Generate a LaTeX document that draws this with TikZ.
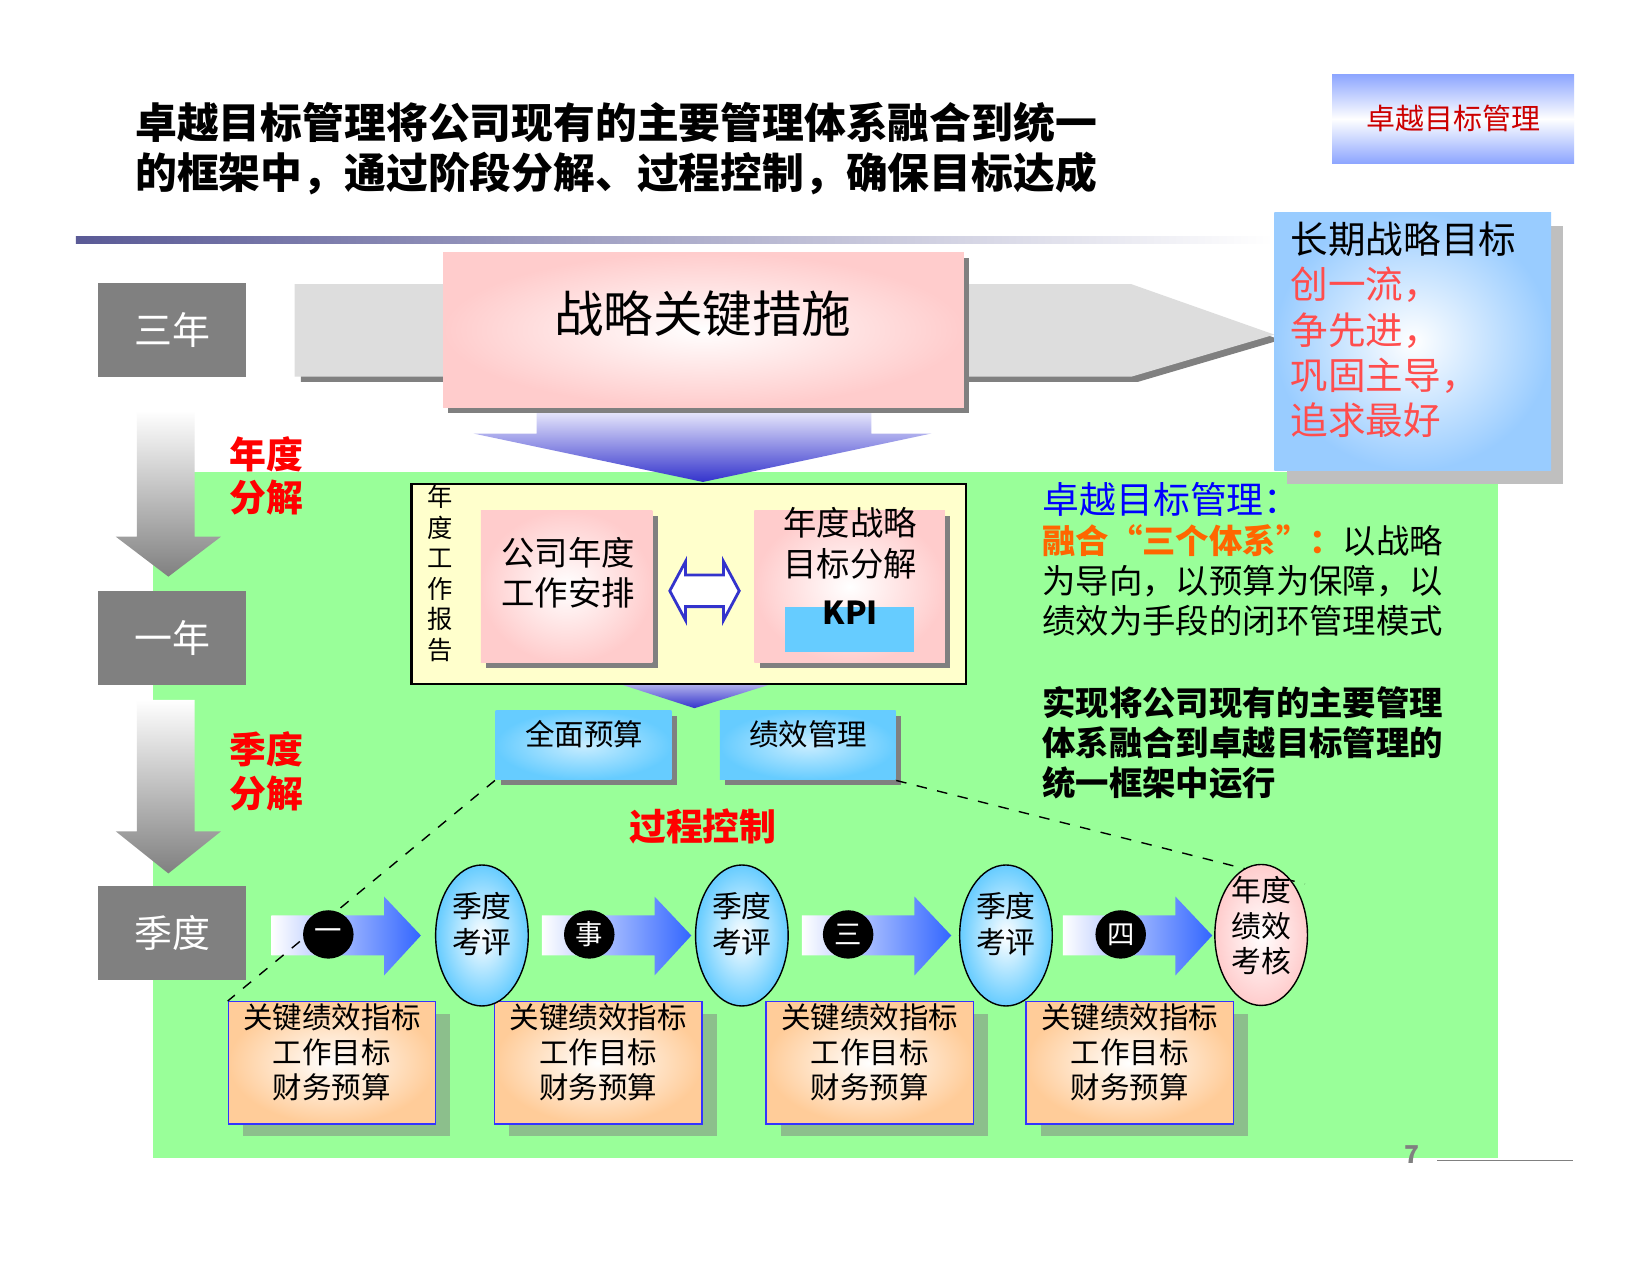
\documentclass[tikz,border=0pt]{standalone}
\usepackage{fontspec}
\setmainfont{Noto Sans CJK SC}
\usetikzlibrary{shapes.geometric,shadows,calc}

\definecolor{bggreen}{RGB}{153,255,153}
\definecolor{boxgray}{RGB}{128,128,128}
\definecolor{arrowgray}{RGB}{221,221,221}
\definecolor{pinkfill}{RGB}{255,204,204}
\definecolor{yellowfill}{RGB}{255,255,204}
\definecolor{skyfill}{RGB}{153,204,255}
\definecolor{kpiblue}{RGB}{102,204,255}
\definecolor{orangefill}{RGB}{255,204,153}
\definecolor{frameblue}{RGB}{51,51,255}
\definecolor{arrowblue}{RGB}{51,102,255}
\definecolor{deepblue}{RGB}{51,51,204}
\definecolor{titlered}{RGB}{204,0,0}
\definecolor{softred}{RGB}{255,77,77}
\definecolor{textorange}{RGB}{255,102,0}
\definecolor{ruleblue}{RGB}{90,90,150}
\definecolor{tagblue}{RGB}{140,165,255}

\newcommand{\pxl}{0.010523cm}

\begin{document}
\begin{tikzpicture}
  [x=0.010523cm, y=-0.010523cm,
   txt/.style={inner sep=0, align=center},
   wh/.style 2 args={minimum width=#1*\pxl, minimum height=#2*\pxl, inner sep=0},
   yearbox/.style={fill=boxgray, text=white, wh={141}{89}, font=\fontsize{10.8}{13}\selectfont},
   redlbl/.style={txt, text=red, font=\fontsize{10.5}{12.3}\selectfont\bfseries},
   pinkbox/.style={inner color=white, outer color=pinkfill,
     drop shadow={shadow xshift=1.5pt, shadow yshift=-1.5pt, opacity=1, fill=boxgray}},
   skybox/.style={inner color=kpiblue!35, outer color=kpiblue,
     drop shadow={shadow xshift=1.5pt, shadow yshift=-1.5pt, opacity=1, fill=boxgray}},
   goalbox/.style={draw=frameblue, inner color=white, outer color=orangefill, wh={197}{116},
     drop shadow={shadow xshift=4.2pt, shadow yshift=-3.6pt, opacity=0.5, fill=boxgray}},
   review/.style={ellipse, draw, wh={88}{134}, inner color=white, outer color=kpiblue,
     align=center, text depth=7pt, font=\fontsize{8.5}{10.2}\selectfont},
   stepdot/.style={ellipse, fill=black, wh={48}{46}, text=white, font=\fontsize{7.8}{8}\selectfont}]

  \useasboundingbox (0,0) rectangle (1568,1212);
  \fill[white] (0,0) rectangle (1568,1212);

  % title
  \node[txt, anchor=west, align=left, font=\fontsize{11.9}{14.1}\selectfont\bfseries] (title) at (128,141)
    {卓越目标管理将公司现有的主要管理体系融合到统一\\的框架中，通过阶段分解、过程控制，确保目标达成};
  \shade[left color=ruleblue, right color=white] (72,225) rectangle (1210,231);
  \node[wh={230}{85}, top color=tagblue, bottom color=tagblue, middle color=white,
        text=titlered, font=\fontsize{8.25}{10}\selectfont] (tag) at (1381,113) {卓越目标管理};

  \fill[bggreen] (145,449) rectangle (1424,1100);

  % three year band
  \fill[boxgray] (286,275) -- (1081,275) -- (1217,323) -- (1081,363) -- (286,363) -- cycle;
  \fill[arrowgray] (280,270) -- (1075,270) -- (1211,318) -- (1075,358) -- (280,358) -- cycle;
  \shade[top color=blue!5, bottom color=deepblue] (510,387) -- (828,387) -- (828,412) -- (885,412)
    -- (668,458) -- (450,412) -- (510,412) -- cycle;
  \node[pinkbox, wh={495}{147}] (zlcs) at (668.5,313.5) {};
  \node[txt, font=\fontsize{14.1}{16}\selectfont] (zlcs-t) at (668,298) {战略关键措施};

  \node[wh={263}{245}, inner color=white, outer color=skyfill,
        drop shadow={shadow xshift=3.5pt, shadow yshift=-3.8pt, opacity=1, fill=black!25}] (cq) at (1342.5,324.5) {};
  \node[txt, anchor=west, align=left, font=\fontsize{10.7}{12.9}\selectfont] (cq-t) at (1226,313.5)
    {长期战略目标\\\textcolor{softred}{创一流，}\\\textcolor{softred}{争先进，}\\\textcolor{softred}{巩固主导，}\\\textcolor{softred}{追求最好}};

  % left column
  \shade[top color=white, bottom color=boxgray] (130,390) -- (185,390) -- (185,510) -- (210,510)
    -- (160,548) -- (110,510) -- (130,510) -- cycle;
  \shade[top color=white, bottom color=boxgray] (130,665) -- (185,665) -- (185,790) -- (210,790)
    -- (160,830) -- (110,790) -- (130,790) -- cycle;
  \node[yearbox] (sn) at (163.5,313.5) {三年};
  \node[yearbox] (yn) at (163.5,606) {一年};
  \node[yearbox] (jd) at (163.5,886.5) {季度};
  \node[redlbl] (ndfj) at (253,452) {年度\\分解};
  \node[redlbl] (jdfj) at (253,733) {季度\\分解};

  % annual block
  \node[wh={527}{190}, draw, thick, fill=yellowfill] (ndbg) at (654.5,555) {};
  \node[txt, font=\fontsize{7.2}{8.7}\selectfont] (ndbg-t) at (418,545) {年\\度\\工\\作\\报\\告};
  \node[pinkbox, wh={163}{145}] (gs) at (538.5,557.5) {};
  \node[txt, font=\fontsize{9.5}{11.4}\selectfont] (gs-t) at (540,544) {公司年度\\工作安排};
  \node[pinkbox, wh={181}{145}] (zl) at (807.5,557.5) {};
  \node[txt, font=\fontsize{9.5}{11.7}\selectfont] (zl-t) at (808,516) {年度战略\\目标分解};
  \node[wh={123}{43}, fill=kpiblue] (kpi) at (807.5,598.5) {};
  \node[txt, font=\fontsize{9}{10}\selectfont\bfseries] (kpi-t) at (808,582) {KPI};
  \coordinate (mid) at ($(gs.east)!0.5!(zl.west)+(1,4)$);
  \draw[deepblue, fill=white, thick, shift={(mid)}] (-33,0) -- (-18,-28) -- (-18,-15) -- (18,-15)
    -- (18,-28) -- (33,0) -- (18,28) -- (18,15) -- (-18,15) -- (-18,28) -- cycle;
  \shade[top color=deepblue!40, bottom color=deepblue] (592,651) -- (730,651) -- (660,673) -- cycle;

  \node[skybox, wh={167}{66}] (qmys) at (554.5,708) {};
  \node[txt, font=\fontsize{8.4}{10}\selectfont] (qmys-t) at (555,698) {全面预算};
  \node[skybox, wh={167}{66}] (jxgl) at (767.5,708) {};
  \node[txt, font=\fontsize{8.4}{10}\selectfont] (jxgl-t) at (768,698) {绩效管理};
  \node[redlbl] (gckz) at (668,785) {过程控制};

  % right text
  \node[txt, anchor=west, text=blue, font=\fontsize{10.5}{12}\selectfont] (zy) at (990,475) {卓越目标管理：};
  \node[txt, anchor=west, align=left, font=\fontsize{9.5}{11.4}\selectfont] (stx) at (990,552)
    {\textcolor{textorange}{\bfseries 融合“三个体系”：}以战略\\为导向，以预算为保障，以\\绩效为手段的闭环管理模式};
  \node[txt, anchor=west, align=left, font=\fontsize{9.5}{11.4}\selectfont\bfseries] (sx) at (990,706)
    {实现将公司现有的主要管理\\体系融合到卓越目标管理的\\统一框架中运行};

  % quarter row
  \foreach \ax in {258,515,762,1010}
    \shade[left color=white, right color=arrowblue] (\ax,870) -- (\ax+107,870) -- (\ax+107,852)
      -- (\ax+142,889) -- (\ax+107,927) -- (\ax+107,908) -- (\ax,908) -- cycle;
  \foreach \bx [count=\i] in {315.5,568.5,826.5,1073.5}{
    \node[goalbox] (zb\i) at (\bx,1010) {};
    \node[txt, font=\fontsize{8.4}{9.9}\selectfont] (zbt\i) at (\bx,1000) {关键绩效指标\\工作目标\\财务预算};
  }
  \coordinate (khend) at (1240,840);
  \draw[dashed] (qmys.south west) -- (zb1.north west);
  \draw[dashed] (jxgl.south east) -- (khend);
  \foreach \cx/\num [count=\i] in {312/一,560/事,806/三,1065/四}
    \node[stepdot] (dot\i) at (\cx,888) {\num};
  \foreach \ex [count=\i] in {458,705,956}
    \node[review] (pj\i) at (\ex,889) {季度\\考评};
  \node[review, outer color=pinkfill, text depth=6pt, inner ysep=-5pt] (kh) at (1198.5,888.5) {年度\\绩效\\考核};

  \node[txt, text=boxgray, font=\fontsize{7}{8}\selectfont\bfseries] (pg) at (1342,1097) {7};
  \draw[boxgray] (1366,1103) -- (1495,1103);
\end{tikzpicture}
\end{document}
